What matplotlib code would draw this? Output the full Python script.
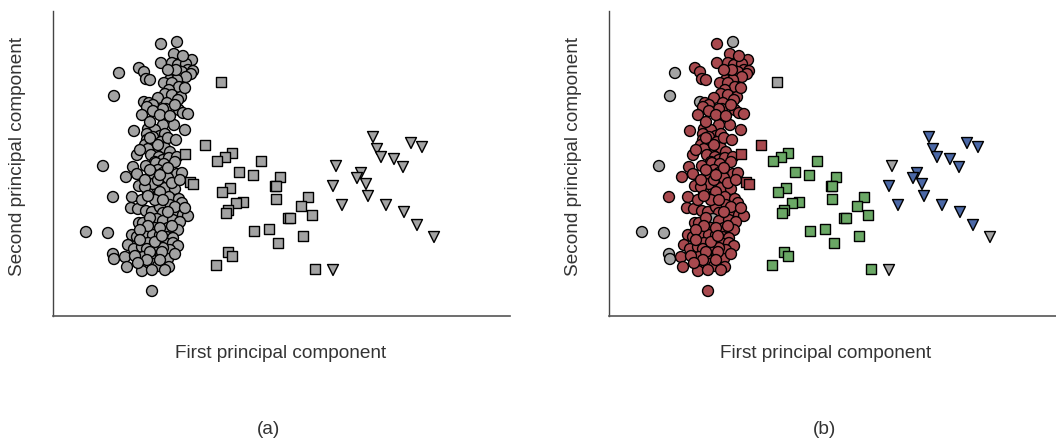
import matplotlib
matplotlib.use("Agg")
import matplotlib.pyplot as plt

plt.rcParams['font.family'] = ['Liberation Sans', 'DejaVu Sans']

# circles (true group 1) - PC scores, arbitrary units
circ_x = [108, 124, 121, 139, 108, 119, 125, 133, 135, 140, 129, 138, 119, 133, 86, 91, 66, 93, 97, 117,
          124, 111, 119, 126, 116, 112, 119, 128, 61, 105, 91, 96, 100, 94, 114, 113, 110, 100, 126, 130,
          135, 89, 111, 121, 110, 132, 81, 95, 102, 94, 107, 100, 112, 94, 92, 100, 108, 104, 112, 95,
          117, 84, 98, 106, 110, 102, 116, 124, 50, 80, 93, 103, 111, 105, 101, 110, 73, 84, 124, 129,
          86, 95, 100, 92, 112, 122, 60, 79, 116, 126, 129, 117, 78, 85, 93, 99, 107, 110, 117, 124,
          130, 135, 86, 90, 104, 110, 120, 127, 102, 115, 125, 33, 55, 79, 84, 93, 100, 107, 114, 120,
          75, 81, 89, 95, 105, 112, 120, 125, 117, 110, 100, 94, 60, 61, 72, 74, 90, 100, 108, 115,
          91, 100, 105, 116, 89, 99, 99,
          105, 115, 119, 107, 102, 110, 122, 97, 115, 132, 95, 107, 119, 87, 102, 109, 87, 97, 109, 122,
          82, 94, 107, 85, 112, 122, 127, 115, 97, 89, 95, 125, 132, 123, 130, 115, 122, 107, 117, 97,
          105, 97, 115, 123, 87, 107, 92]
circ_y = [272, 274, 262, 256, 253, 253, 251, 252, 246, 245, 244, 242, 242, 239, 248, 244, 243, 237, 236, 236,
          236, 233, 233, 229, 226, 222, 221, 219, 220, 218, 214, 213, 211, 209, 213, 207, 207, 205, 206, 203,
          202, 201, 198, 191, 191, 186, 185, 187, 186, 182, 180, 179, 182, 176, 171, 171, 174, 166, 168, 167,
          164, 161, 161, 159, 156, 154, 158, 159, 150, 149, 150, 153, 152, 146, 141, 143, 139, 142, 142, 143,
          130, 123, 132, 129, 128, 127, 119, 119, 119, 117, 113, 111, 108, 107, 105, 104, 109, 103, 102, 103,
          101, 100, 93, 93, 97, 95, 96, 94, 88, 88, 86, 84, 83, 81, 79, 80, 81, 81, 79, 78,
          71, 67, 69, 73, 74, 73, 73, 70, 66, 68, 67, 67, 62, 57, 59, 49, 59, 59, 60, 57,
          52, 52, 50, 49, 45, 46, 25,
          136, 138, 133, 124, 116, 116, 109, 98, 104, 108, 90, 88, 90, 86, 74, 80, 76, 64, 64, 62,
          60, 56, 56, 53, 46, 154, 136, 148, 146, 116, 120, 216, 228, 246, 260, 246, 211, 201, 200, 194,
          171, 178, 178, 176, 166, 141, 136]
# circles left unassigned (grey) in panel (b)
circ_noise = [(124, 274), (66, 243), (61, 220), (91, 214), (50, 150), (104, 97), (33, 84), (55, 83),
              (60, 62), (61, 57)]

# squares (true group 2)
sq_x = [168, 152, 132, 137, 140, 179, 172, 164, 208, 186, 200, 227, 222, 223, 177, 169, 190, 183, 223, 255,
        248, 175, 173, 235, 237, 259, 201, 216, 250, 225, 175, 179, 163, 262]
sq_y = [234, 171, 162, 134, 132, 163, 159, 155, 155, 144, 141, 139, 130, 130, 128, 124, 114, 113, 117, 119,
        110, 106, 103, 98, 98, 101, 85, 87, 80, 73, 64, 60, 51, 47]
sq_k = ['n', 'r', 'r', 'r', 'r'] + ['g'] * 29

# triangles (true group 3)
tri_x = [320, 358, 369, 324, 328, 341, 350, 283, 308, 304, 313, 280, 315, 289, 333, 351, 364, 381, 280]
tri_y = [179, 173, 169, 167, 159, 157, 149, 150, 143, 138, 132, 130, 120, 111, 111, 104, 91, 79, 46]
tri_k = ['b'] * 7 + ['n'] + ['b'] * 9 + ['n', 'n']

grey = '#a3a3a3'
cols = {'n': grey, 'r': '#a8494e', 'g': '#6aa865', 'b': '#4b68a6'}
txtcol = '#333333'

circ_k = []
for i in range(len(circ_x)):
    if (circ_x[i], circ_y[i]) in circ_noise:
        circ_k.append('n')
    else:
        circ_k.append('r')

fig = plt.figure(figsize=(10.56, 4.41), dpi=100)

W, H = 1056.0, 441.0
lefts = [53, 609]
for p in range(2):
    ax = fig.add_axes([lefts[p] / W, (H - 316) / H, 457 / W, 305 / H])
    if p == 0:
        cc = [grey] * len(circ_x)
        sc = [grey] * len(sq_x)
        tc = [grey] * len(tri_x)
    else:
        cc = [cols[k] for k in circ_k]
        sc = [cols[k] for k in sq_k]
        tc = [cols[k] for k in tri_k]
    ax.scatter(circ_x, circ_y, s=62, marker='o', c=cc, edgecolors='black', linewidths=1.0, zorder=3)
    ax.scatter(sq_x, sq_y, s=55, marker='s', c=sc, edgecolors='black', linewidths=1.0, zorder=3)
    ax.scatter(tri_x, tri_y, s=62, marker='v', c=tc, edgecolors='black', linewidths=1.0, zorder=3)
    ax.set_xlim(0, 457)
    ax.set_ylim(0, 305)
    ax.set_xticks([])
    ax.set_yticks([])
    ax.spines['top'].set_visible(False)
    ax.spines['right'].set_visible(False)
    ax.spines['left'].set_color('#444444')
    ax.spines['bottom'].set_color('#555555')
    ax.spines['left'].set_linewidth(1.0)
    ax.spines['bottom'].set_linewidth(1.2)

# labels
fig.text(18 / W, 1 - 157 / H, "Second principal component", rotation=90, ha='center', va='center',
         fontsize=13.7, color=txtcol)
fig.text(574 / W, 1 - 157 / H, "Second principal component", rotation=90, ha='center', va='center',
         fontsize=13.7, color=txtcol)
fig.text(281 / W, 1 - 354 / H, "First principal component", ha='center', va='center',
         fontsize=13.7, color=txtcol)
fig.text(826 / W, 1 - 354 / H, "First principal component", ha='center', va='center',
         fontsize=13.7, color=txtcol)
fig.text(268 / W, 1 - 430 / H, "(a)", ha='center', va='center', fontsize=13.7, color=txtcol)
fig.text(824 / W, 1 - 430 / H, "(b)", ha='center', va='center', fontsize=13.7, color=txtcol)

fig.savefig("out.png", dpi=100)
